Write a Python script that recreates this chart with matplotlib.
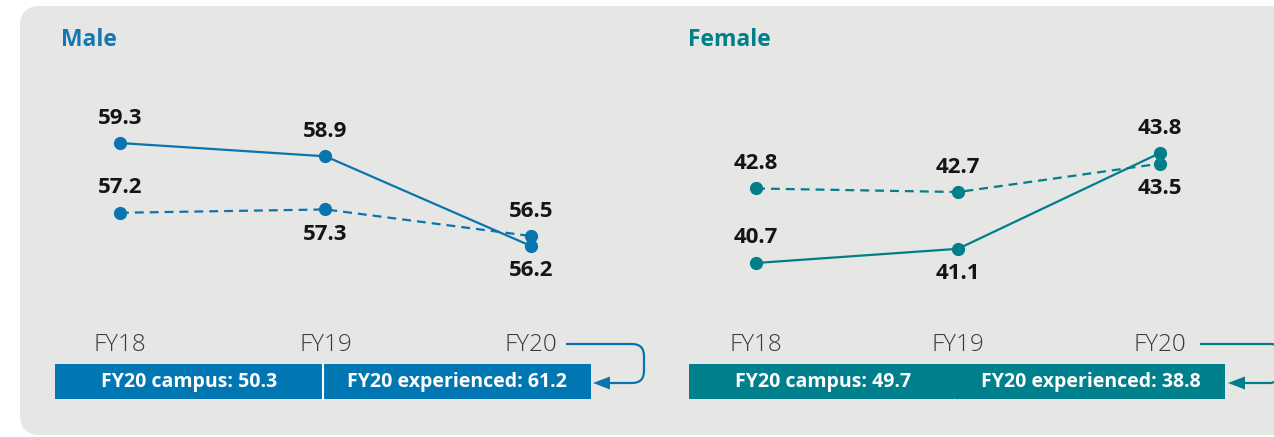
import matplotlib.pyplot as plt
from matplotlib.patches import FancyBboxPatch, Rectangle, Polygon, PathPatch
from matplotlib.path import Path

# data
years = ["FY18", "FY19", "FY20"]
male_solid = [59.3, 58.9, 56.2]
male_dashed = [57.2, 57.3, 56.5]
female_solid = [40.7, 41.1, 43.8]
female_dashed = [42.8, 42.7, 43.5]
male_campus = 50.3
male_experienced = 61.2
female_campus = 49.7
female_experienced = 38.8

# label placement (+1 above, -1 below)
male_solid_pos = [1, 1, -1]
male_dashed_pos = [1, -1, 1]
female_solid_pos = [1, -1, 1]
female_dashed_pos = [1, 1, -1]

BLUE = "#0a74ae"
BAR_BLUE = "#0077b3"
TEAL = "#007f8a"
BAR_TEAL = "#00808c"
PANEL = "#e6e6e4"
FONT = "Open Sans"

W, H = 1274, 437
fig = plt.figure(figsize=(W / 100, H / 100), dpi=100)
fig.patch.set_facecolor("white")

# background layer in pixel coordinates
bg = fig.add_axes([0, 0, 1, 1])
bg.set_xlim(0, W)
bg.set_ylim(H, 0)
bg.axis("off")
bg.add_patch(FancyBboxPatch((20, 6), 1300, 429, boxstyle="round,pad=0,rounding_size=20",
                            fc=PANEL, ec="none"))


def px_axes(left, right, top, bottom):
    return fig.add_axes([left / W, (H - bottom) / H, (right - left) / W, (bottom - top) / H])


def draw_panel(ax, solid, dashed, spos, dpos, color, xlim, ylim):
    x = range(len(years))
    ax.plot(x, solid, color=color, lw=1.6, marker="o", ms=8.5, zorder=3)
    ax.plot(x, dashed, color=color, lw=1.6, ls=(0, (4, 2.7)), marker="o", ms=8.5, zorder=3)
    for vals, pos in ((solid, spos), (dashed, dpos)):
        for i, (v, p) in enumerate(zip(vals, pos)):
            ax.annotate(f"{v:.1f}", (i, v), xytext=(0, 18 * p), textcoords="offset points",
                        ha="center", va="center", fontsize=16, fontweight="bold",
                        family=FONT, color="#151515")
    for i, yr in enumerate(years):
        ax.text(i, -0.225, yr, transform=ax.get_xaxis_transform(), ha="center", va="center",
                fontsize=17.5, fontweight="light", family=FONT, color="#3c3c3c")
    ax.set_xlim(*xlim)
    ax.set_ylim(*ylim)
    ax.axis("off")


ax_m = px_axes(55, 591, 100, 300)
draw_panel(ax_m, male_solid, male_dashed, male_solid_pos, male_dashed_pos, BLUE,
           (-0.316, 2.292), (54.574, 60.595))
ax_f = px_axes(689, 1225, 100, 300)
draw_panel(ax_f, female_solid, female_dashed, female_solid_pos, female_dashed_pos, TEAL,
           (-0.332, 2.322), (39.657, 45.294))

# titles
bg.text(61, 40, "Male", fontsize=16.5, fontweight="bold", family=FONT, color="#1578b2",
        ha="left", va="center")
bg.text(688, 40, "Female", fontsize=16.5, fontweight="bold", family=FONT, color=TEAL,
        ha="left", va="center")

# FY20 boxes
for left, right, mid, color, campus, exp in ((55, 591, 323, BAR_BLUE, male_campus, male_experienced),
                                             (689, 1225, 957, BAR_TEAL, female_campus, female_experienced)):
    bg.add_patch(Rectangle((left, 364), right - left, 35, fc=color, ec="none"))
    bg.text((left + mid) / 2, 382, f"FY20 campus: {campus}", color="white", fontsize=14,
            fontweight="bold", family=FONT, ha="center", va="center")
    bg.text((mid + right) / 2, 382, f"FY20 experienced: {exp}", color="white", fontsize=14,
            fontweight="bold", family=FONT, ha="center", va="center")
bg.plot([323, 323], [364, 399], color="white", lw=1.5)
bg.plot([957, 957], [364, 399], color="#0b6f78", lw=0.5, alpha=0.5)

# return arrows
for x0, xr, tip, color in ((566, 644, 593, BLUE), (1200, 1282, 1228, TEAL)):
    r = 12
    verts = [(x0, 344), (xr - r, 344), (xr, 344), (xr, 344 + r), (xr, 383 - r), (xr, 383),
             (xr - r, 383), (tip + 10, 383)]
    codes = [Path.MOVETO, Path.LINETO, Path.CURVE3, Path.CURVE3, Path.LINETO, Path.CURVE3,
             Path.CURVE3, Path.LINETO]
    bg.add_patch(PathPatch(Path(verts, codes), fc="none", ec=color, lw=1.6))
    bg.add_patch(Polygon([(tip, 383), (tip + 17, 376.5), (tip + 17, 389.5)], closed=True,
                         fc=color, ec="none"))

fig.savefig("out.png", dpi=100)
